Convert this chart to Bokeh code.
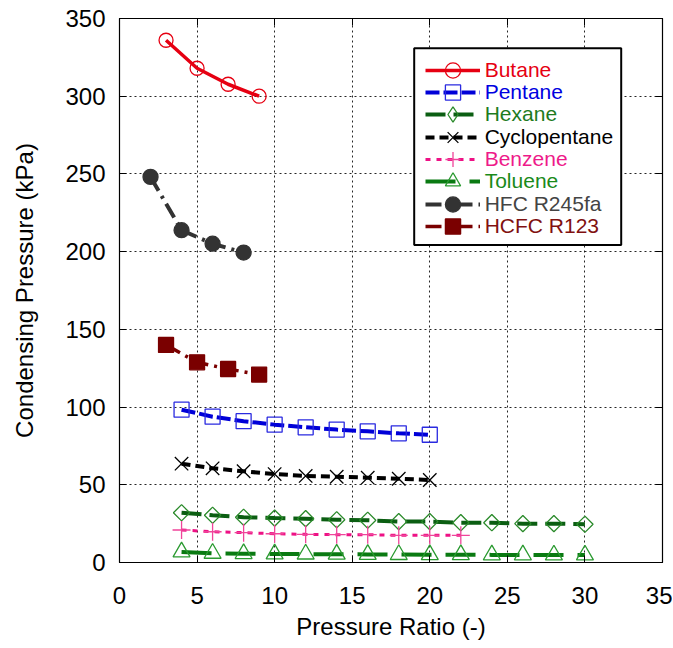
from bokeh.plotting import figure
from bokeh.models import (Range1d, LinearAxis, SingleIntervalTicker, Legend,
                          LegendItem, BoxAnnotation, CustomLabelingPolicy)
from bokeh.embed import file_html
from bokeh.resources import INLINE
import math

# ---------------- data ----------------
butane_x = [3, 5, 7, 9]
butane_y = [336.0, 318.0, 307.7, 300.0]

pentane_x = [4, 6, 8, 10, 12, 14, 16, 18, 20]
pentane_y = [98.3, 93.8, 90.9, 88.7, 87.0, 85.5, 84.4, 83.1, 82.2]

hexane_x = [4, 6, 8, 10, 12, 14, 16, 18, 20, 22, 24, 26, 28, 30]
hexane_y = [32.0, 30.4, 29.1, 28.6, 28.2, 27.5, 27.2, 26.3, 26.3, 25.6, 25.6, 25.0, 25.0, 24.6]

cyclopentane_x = [4, 6, 8, 10, 12, 14, 16, 18, 20]
cyclopentane_y = [63.6, 60.6, 58.7, 56.9, 55.7, 55.2, 54.6, 53.9, 53.1]

benzene_x = [4, 6, 8, 10, 12, 14, 16, 18, 20, 22]
benzene_y = [20.9, 19.8, 19.2, 18.5, 18.1, 17.9, 17.9, 17.5, 17.5, 17.5]

toluene_x = [4, 6, 8, 10, 12, 14, 16, 18, 20, 22, 24, 26, 28, 30]
toluene_y = [6.8, 5.9, 5.7, 5.5, 5.4, 5.3, 5.2, 5.1, 5.0, 5.0, 4.9, 4.9, 4.8, 4.8]

r245fa_x = [2, 4, 6, 8]
r245fa_y = [248.1, 213.8, 205.1, 199.4]

r123_x = [3, 5, 7, 9]
r123_y = [140.0, 128.8, 124.5, 120.9]

labels = ["Butane", "Pentane", "Hexane", "Cyclopentane", "Benzene",
          "Toluene", "HFC R245fa", "HCFC R123"]
x_ticks_interval = 5
y_ticks_interval = 50

series = [
    dict(x=butane_x, y=butane_y, line="#e60012", lw=3.5, dash="solid",
         marker="circle", mcolor="#e60012", fill=None, size=14, angle=0, text="#e60012"),
    dict(x=pentane_x, y=pentane_y, line="#0000d8", lw=4, dash="14 4",
         marker="square", mcolor="#2a2ae0", fill=None, size=15, angle=0, text="#0000e0"),
    dict(x=hexane_x, y=hexane_y, line="#0b5e12", lw=4, dash="20 8",
         marker="square", mcolor="#2a8a2a", fill=None, size=11.5, angle=math.pi / 4,
         text="#1e7b1e", legend_marker="diamond"),
    dict(x=cyclopentane_x, y=cyclopentane_y, line="#000000", lw=4, dash="9 5",
         marker="x", mcolor="#000000", fill=None, size=19, angle=0, text="#000000"),
    dict(x=benzene_x, y=benzene_y, line="#ee1185", lw=3, dash="5 6",
         marker="cross", mcolor="#f0449a", fill=None, size=18, angle=0, text="#ee1a8a"),
    dict(x=toluene_x, y=toluene_y, line="#0a7a12", lw=4, dash="30 14",
         marker="triangle", mcolor="#2a9a30", fill=None, size=17, angle=0, text="#1a8a1a"),
    dict(x=r245fa_x, y=r245fa_y, line="#333333", lw=4, dash="16 6 3 6",
         marker="circle", mcolor="#333333", fill="#333333", size=15, angle=0, text="#444444"),
    dict(x=r123_x, y=r123_y, line="#7a0000", lw=3.5, dash="16 6 3 6",
         marker="square", mcolor="#7a0000", fill="#7a0000", size=15, angle=0, text="#801010"),
]

FONT = "Liberation Sans"

p = figure(frame_width=543, frame_height=544,
           min_border_left=119, min_border_top=18, min_border_right=10, min_border_bottom=84,
           x_range=Range1d(0, 35), y_range=Range1d(0, 350),
           output_backend="svg", toolbar_location=None,
           x_axis_location=None, y_axis_location=None)

p.outline_line_color = "black"
p.outline_line_width = 1.2
p.background_fill_color = "white"
p.border_fill_color = "white"

xticker = SingleIntervalTicker(interval=x_ticks_interval, num_minor_ticks=0)
yticker = SingleIntervalTicker(interval=y_ticks_interval, num_minor_ticks=0)

no_labels = CustomLabelingPolicy(code="""
const all = Array.from(indices)
for (const i of all) indices.unset(i)
return indices
""")


def make_axis(ticker, show_labels):
    ax = LinearAxis(ticker=ticker)
    ax.major_tick_in = 7
    ax.major_tick_out = 0
    ax.minor_tick_line_color = None
    ax.major_tick_line_color = "black"
    ax.axis_line_color = "black"
    ax.major_label_text_font = FONT
    ax.major_label_text_color = "black"
    ax.axis_label_text_font = FONT
    ax.axis_label_text_font_style = "normal"
    ax.axis_label_text_color = "black"
    if show_labels:
        ax.major_label_text_font_size = "24px"
        ax.axis_label_text_font_size = "24px"
    else:
        ax.major_label_text_font_size = "2px"
        ax.major_label_standoff = 0
        ax.major_label_policy = no_labels
    return ax


xaxis = make_axis(xticker, True)
xaxis.axis_label = "Pressure Ratio (-)"
xaxis.major_label_standoff = 24
xaxis.axis_label_standoff = 6
p.add_layout(xaxis, "below")

yaxis = make_axis(yticker, True)
yaxis.axis_label = "Condensing Pressure (kPa)"
yaxis.major_label_standoff = 14
yaxis.axis_label_standoff = 24
p.add_layout(yaxis, "left")

p.add_layout(make_axis(xticker, False), "above")
p.add_layout(make_axis(yticker, False), "right")

p.xgrid.ticker = xticker
p.ygrid.ticker = yticker
for g in (p.xgrid, p.ygrid):
    g.grid_line_color = "black"
    g.grid_line_dash = "2 3"
    g.grid_line_width = 1
    g.grid_line_alpha = 0.85

renderers = []
for s in series:
    lr = p.line(s["x"], s["y"], line_color=s["line"], line_width=s["lw"], line_dash=s["dash"])
    sr = p.scatter(s["x"], s["y"], marker=s["marker"], size=s["size"], angle=s["angle"],
                   line_color=s["mcolor"], line_width=1.3,
                   fill_color=s["fill"], fill_alpha=1 if s["fill"] else 0)
    legend_rs = [lr, sr]
    if "legend_marker" in s:
        # legend-only marker (legend glyphs ignore marker angle)
        hr = p.scatter(s["x"], s["y"], marker=s["legend_marker"], size=s["size"],
                       line_color=s["mcolor"], line_width=1.3, fill_alpha=0,
                       visible=False)
        legend_rs = [lr, hr]
    renderers.append(legend_rs)

# legend frame (screen units relative to the plot frame)
box = BoxAnnotation(left=294.7, right=501.7, top=514.2, bottom=317.5,
                    left_units="screen", right_units="screen",
                    top_units="screen", bottom_units="screen",
                    fill_color="white", fill_alpha=1.0,
                    line_color="black", line_width=2, line_alpha=1.0)
p.add_layout(box)

row_h = 38
for i, (s, lab, rs) in enumerate(zip(series, labels, renderers)):
    vy = 473.2 - 22.3 * i
    leg = Legend(items=[LegendItem(label=lab, renderers=rs)],
                 location=(305.7, vy), padding=0, margin=0, spacing=0,
                 border_line_color=None, background_fill_alpha=0,
                 inactive_fill_alpha=0,
                 glyph_width=55, glyph_height=row_h, label_height=20,
                 label_standoff=5,
                 label_text_font=FONT, label_text_font_size="21px",
                 label_text_color=s["text"])
    p.add_layout(leg, "center")

open("out.html", "w").write(file_html(p, INLINE))
